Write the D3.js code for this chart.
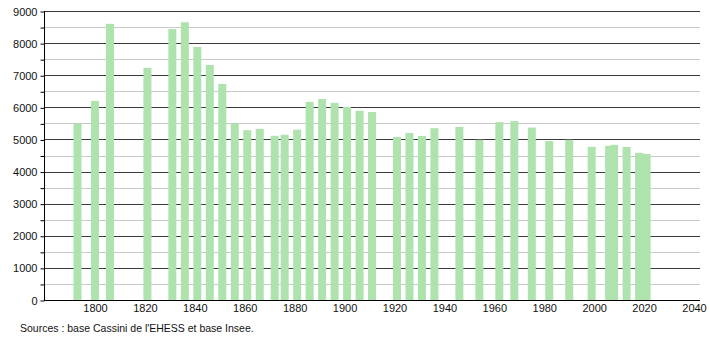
<!DOCTYPE html>
<html>
<head>
<meta charset="utf-8">
<script src="https://cdn.jsdelivr.net/npm/d3@7"></script>
<style>
  body { margin: 0; background: #fff; }
  text { font-family: "Liberation Sans", Arial, sans-serif; }
</style>
</head>
<body>
<div id="chart"></div>
<script>
// census years and population
let years = [1793, 1800, 1806, 1821, 1831, 1836, 1841, 1846, 1851, 1856,
    1861, 1866, 1872, 1876, 1881, 1886, 1891, 1896, 1901, 1906,
    1911, 1921, 1926, 1931, 1936, 1946, 1954, 1962, 1968, 1975,
    1982, 1990, 1999, 2006, 2008, 2013, 2018, 2021]
let population = [5500, 6200, 8600, 7230, 8440, 8650, 7880, 7320, 6730, 5500,
    5290, 5330, 5115, 5145, 5305, 6170, 6260, 6140, 6010, 5890,
    5855, 5076, 5200, 5110, 5350, 5390, 4990, 5540, 5570, 5370,
    4950, 4990, 4770, 4800, 4830, 4765, 4585, 4550]
let xTicks = [1800, 1820, 1840, 1860, 1880, 1900, 1920, 1940, 1960, 1980, 2000, 2020, 2040]
let yTicks = [0, 1000, 2000, 3000, 4000, 5000, 6000, 7000, 8000, 9000]
let source = "Sources : base Cassini de l'EHESS et base Insee."

let width = 710
let height = 340
let plotLeft = 44, plotRight = 700, plotTop = 11, plotBottom = 300

let svg = d3.select("#chart")
    .append("svg")
    .attr("width", width)
    .attr("height", height)

let x = d3.scaleLinear()
    .domain([1800, 2040])
    .range([95, 694])

let y = d3.scaleLinear()
    .domain([0, 9000])
    .range([plotBottom, plotTop])

// gridlines, light every 500, dark every 1000
let grid = d3.range(0, 9001, 500)
svg.append("g")
    .selectAll("line")
    .data(grid)
    .enter()
    .append("line")
    .attr("x1", plotLeft)
    .attr("x2", plotRight)
    .attr("y1", d => Math.round(y(d)) + 0.5)
    .attr("y2", d => Math.round(y(d)) + 0.5)
    .style("stroke", d => d % 1000 == 0 ? "#3a3a3a" : "#c8c8c8")
    .style("stroke-width", 1)

// bars
svg.append("g")
    .selectAll("rect")
    .data(years)
    .enter()
    .append("rect")
    .attr("x", d => x(d) - 4)
    .attr("width", 8)
    .attr("y", (d, i) => y(population[i]))
    .attr("height", (d, i) => plotBottom - y(population[i]))
    .style("fill", "#aee3ae")

// y axis
let yAxis = d3.axisLeft(y)
    .tickValues(grid)
    .tickSize(4)
    .tickFormat(d => yTicks.includes(d) ? d : "")

let gy = svg.append("g")
    .attr("transform", "translate(" + (plotLeft + 0.5) + ",0.5)")
    .call(yAxis)
gy.select(".domain").attr("d", "M0," + (plotTop - 0.5) + "V" + (plotBottom - 0.5))
gy.selectAll("line").style("stroke", "#000")
gy.selectAll("text")
    .attr("x", -7)
    .style("font-size", "11px")
    .style("fill", "#111")

// x axis
let xAxis = d3.axisBottom(x)
    .tickValues(xTicks)
    .tickSize(0)
    .tickFormat(d3.format("d"))

let gx = svg.append("g")
    .attr("transform", "translate(0," + (plotBottom + 0.5) + ")")
    .call(xAxis)
gx.select(".domain").attr("d", "M" + plotLeft + ",0H" + plotRight).style("stroke", "#000")
gx.selectAll("text")
    .attr("y", 4)
    .style("font-size", "11px")
    .style("fill", "#111")

svg.append("text")
    .attr("x", 20)
    .attr("y", 332)
    .style("font-size", "10.5px")
    .style("fill", "#111")
    .text(source)
</script>
</body>
</html>
